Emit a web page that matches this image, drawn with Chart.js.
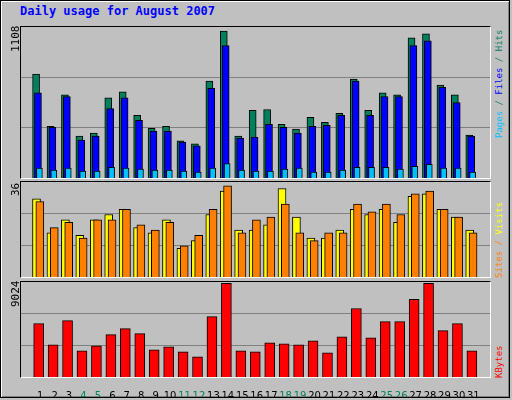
<!DOCTYPE html>
<html><head><meta charset="utf-8">
<script src="https://cdn.jsdelivr.net/npm/chart.js@4"></script>
<style>
body{margin:0;width:512px;height:400px;overflow:hidden;background:#c0c0c0;}
#outer{position:absolute;left:0;top:0;width:508px;height:396px;border:1px solid #000;box-shadow:inset 1px 1px 0 #fff, inset -1px -1px 0 #808080;}
.frame{position:absolute;border-top:1px solid #000;border-left:1px solid #000;border-bottom:1px solid #fff;border-right:1px solid #fff;}
canvas{position:absolute;}
.t{position:absolute;font-family:"DejaVu Sans Mono",monospace;font-size:11px;white-space:nowrap;transform-origin:0 0;transform:rotate(-90deg);}
.r{font-size:9px;}
#title{position:absolute;left:20px;top:4px;font:bold 12px "DejaVu Sans Mono",monospace;color:#0000ff;}
</style></head><body>
<div id="outer"></div>
<div id="title">Daily usage for August 2007</div>
<div class="frame" style="left:20px;top:26px;width:469px;height:151px"></div>
<div class="frame" style="left:20px;top:181px;width:469px;height:95px"></div>
<div class="frame" style="left:20px;top:281px;width:469px;height:95px"></div>
<canvas id="c1" width="469" height="151" style="left:21px;top:27px"></canvas>
<canvas id="c2" width="469" height="95" style="left:21px;top:182px"></canvas>
<canvas id="c3" width="469" height="115" style="left:21px;top:282px"></canvas>
<div class="t" style="left:9px;top:52px">1108</div>
<div class="t" style="left:9px;top:196px">36</div>
<div class="t" style="left:9px;top:307px">9024</div>
<div class="t r" style="left:494px;top:138px"><span style="color:#00c0ff">Pages</span><span style="color:#00805c"> / </span><span style="color:#0000ff">Files</span><span style="color:#00805c"> / Hits</span></div>
<div class="t r" style="left:494px;top:278px"><span style="color:#ff8000">Sites / </span><span style="color:#ffff00">Visits</span></div>
<div class="t r" style="left:494px;top:378px;color:#ff0000">KBytes</div>
<script>
const days=[1,2,3,4,5,6,7,8,9,10,11,12,13,14,15,16,17,18,19,20,21,22,23,24,25,26,27,28,29,30,31];
const weekend=[4,5,11,12,18,19,25,26];
const hits=[770,384,617,311,333,595,639,464,369,384,275,253,719,1090,311,501,508,399,362,450,413,479,734,501,632,617,1040,1069,690,617,318];
const files=[632,376,604,282,311,515,595,428,348,348,267,238,666,982,296,304,399,376,333,384,391,464,719,464,604,604,982,1018,673,559,311];
const pages=[73,58,73,51,51,80,73,66,58,58,51,44,73,107,58,51,51,66,73,44,44,58,80,80,80,66,87,102,73,73,44];
const sites=[30,17,22,16,22,24,26,19,17,22,11,14,24,33,18,18,20,34,23,15,15,18,26,24,26,21,31,32,26,23,18];
const visits=[29,19,21,15,22,22,26,20,18,21,12,16,26,35,17,22,23,28,17,14,17,17,28,25,28,24,32,33,26,23,17];
const kbytes=[5142,3105,5433,2523,3008,4075,4657,4172,2620,2911,2426,1940,5821,9024,2523,2426,3299,3202,3105,3493,2328,3881,6597,3784,5336,5336,7470,9024,4463,5142,2523];
const XMIN=0.2,XMAX=31.63;
function pts(arr,off){return days.map((d,i)=>({x:d+off,y:arr[i]}));}
function ds(arr,off,color,w,order){return {data:pts(arr,off),backgroundColor:color,borderColor:'#000',borderWidth:1,barThickness:w,grouped:false,order:order,borderSkipped:'bottom'};}
function opts(max,showX){
 const x={type:'linear',min:XMIN,max:XMAX,display:showX,grid:{display:false},border:{display:false},
      afterBuildTicks:s=>{s.ticks=days.map(v=>({value:v}));},
      ticks:{autoSkip:false,maxRotation:0,padding:5,font:{family:'DejaVu Sans',size:10},
        color:c=>weekend.includes(c.tick.value)?'#00805c':'#000',callback:v=>String(v)}};
 if(showX) x.afterFit=s=>{s.height=20;};
 return {responsive:false,animation:false,devicePixelRatio:1,
  plugins:{legend:{display:false},tooltip:{enabled:false}},
  layout:{padding:0},
  scales:{x:x,
   y:{min:0,max:max,display:true,ticks:{display:false},border:{display:false},
      afterFit:s=>{s.width=0;},
      afterBuildTicks:s=>{s.ticks=[{value:max/3},{value:2*max/3}];},
      grid:{color:'#808080',drawTicks:false,lineWidth:1}}
  }};
}
new Chart(document.getElementById('c1'),{type:'bar',data:{datasets:[
 ds(hits,-0.28,'#00805c',7,3),ds(files,-0.15,'#0000ff',7,2),ds(pages,-0.05,'#00c0ff',6,1)]},options:opts(1120,false)});
new Chart(document.getElementById('c2'),{type:'bar',data:{datasets:[
 ds(sites,-0.25,'#ffff00',8,2),ds(visits,-0.02,'#ff8000',8,1)]},options:opts(36.5,false)});
new Chart(document.getElementById('c3'),{type:'bar',data:{datasets:[
 ds(kbytes,-0.1,'#ff0000',10,1)]},options:opts(9150,true)});
</script>
</body></html>
